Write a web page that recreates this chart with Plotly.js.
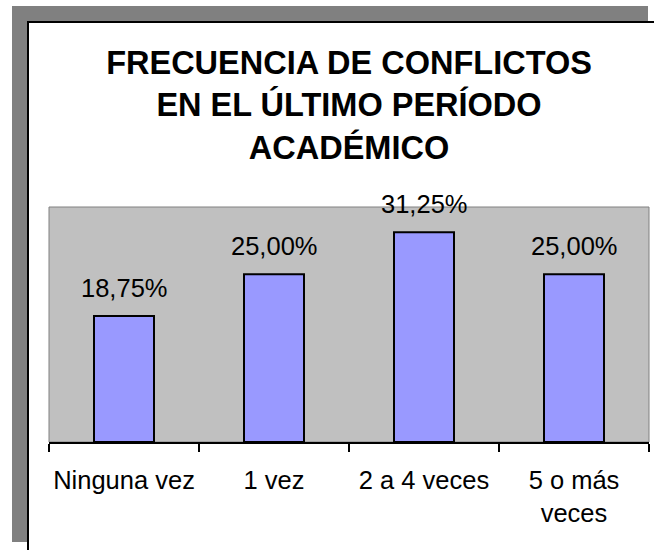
<!DOCTYPE html>
<html>
<head>
<meta charset="utf-8">
<script src="https://cdn.plot.ly/plotly-3.0.1.min.js"></script>
<style>html,body{margin:0;padding:0;background:#fff;}#chart{width:654px;height:550px;}</style>
</head>
<body>
<div id="chart"></div>
<script>
var categories = ["Ninguna vez", "1 vez", "2 a 4 veces", "5 o más veces"];
var tickLabels = ["Ninguna vez", "1 vez", "2 a 4 veces", "5 o más<br>veces"];
var values = [18.75, 25.00, 31.25, 25.00];
var chartTitle = "FRECUENCIA DE CONFLICTOS<br>EN EL ÚLTIMO PERÍODO<br>ACADÉMICO";

var W = 654, H = 550;
var M = {l: 49, r: 5, t: 207, b: 108};
var pw = W - M.l - M.r, ph = H - M.t - M.b;
function fx(px) { return (px - M.l) / pw; }
function fy(py) { return (H - M.b - py) / ph; }

var fontFam = '"Liberation Sans", Arial, sans-serif';

function fmt(v) { return v.toFixed(2).replace('.', ',') + '%'; }

var trace = {
  type: 'bar',
  x: categories,
  y: values,
  width: 0.4,
  marker: {color: '#9999FF', line: {color: '#000000', width: 2}},
  hoverinfo: 'none'
};

var annotations = categories.map(function (c, i) {
  return {
    x: c, y: values[i], xref: 'x', yref: 'y',
    text: fmt(values[i]), showarrow: false,
    yanchor: 'bottom', xanchor: 'center', yshift: 12,
    font: {family: fontFam, size: 25.5, color: '#000'}
  };
});

var shapes = [
  {type: 'rect', xref: 'paper', yref: 'paper', layer: 'below',
   x0: fx(12), x1: fx(648), y0: fy(542), y1: fy(6),
   fillcolor: '#808080', line: {width: 0}},
  {type: 'rect', xref: 'paper', yref: 'paper', layer: 'below',
   x0: fx(28), x1: fx(664), y0: fy(562), y1: fy(22),
   fillcolor: '#FFFFFF', line: {color: '#000000', width: 2}},
  {type: 'rect', xref: 'paper', yref: 'paper', layer: 'below',
   x0: 0, x1: 1, y0: 0, y1: 1,
   fillcolor: '#C0C0C0', line: {color: '#808080', width: 1}}
];

var layout = {
  width: W, height: H,
  margin: M,
  paper_bgcolor: '#FFFFFF',
  plot_bgcolor: 'rgba(0,0,0,0)',
  showlegend: false,
  font: {family: fontFam, color: '#000'},
  title: {
    text: chartTitle,
    font: {family: fontFam, size: 32.5, color: '#000', weight: 'bold'},
    x: 0.5, xref: 'paper', xanchor: 'center',
    y: 1 - 74 / H, yref: 'container', yanchor: 'top'
  },
  xaxis: {
    type: 'category',
    tickvals: categories,
    ticktext: tickLabels,
    tickson: 'boundaries',
    tickangle: 0,
    ticks: 'outside', ticklen: 8, tickwidth: 2, tickcolor: '#000',
    ticklabelstandoff: 14,
    showline: true, linecolor: '#000', linewidth: 2,
    showgrid: false, zeroline: false,
    tickfont: {family: fontFam, size: 25.5, color: '#000'},
    range: [-0.5, 3.5]
  },
  yaxis: {
    visible: false, range: [0, 35], showgrid: false, zeroline: false
  },
  shapes: shapes,
  annotations: annotations
};

Plotly.newPlot('chart', [trace], layout, {displayModeBar: false, staticPlot: true});
</script>
</body>
</html>
